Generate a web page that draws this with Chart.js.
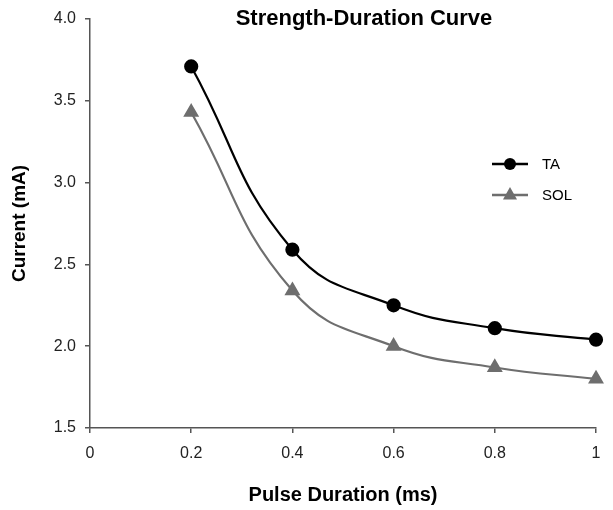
<!DOCTYPE html>
<html><head><meta charset="utf-8">
<script src="https://cdn.jsdelivr.net/npm/chart.js@4"></script>
<style>html,body{margin:0;padding:0;background:#fff}#wrap{width:613px;height:510px}</style>
</head><body><div id="wrap"><canvas id="c" width="613" height="510"></canvas></div>
<script>
const pulseDurations = [0.2, 0.4, 0.6, 0.8, 1.0];
const taValues = [3.71, 2.59, 2.25, 2.11, 2.04];
const solValues = [3.43, 2.34, 2.00, 1.87, 1.80];
const seriesNames = ["TA", "SOL"];
const chartTitle = "Strength-Duration Curve";
const xTitle = "Pulse Duration (ms)";
const yTitle = "Current (mA)";

const FONT = "'Liberation Sans', Arial, sans-serif";
const toPts = (xs, ys) => xs.map((x, i) => ({x: x, y: ys[i]}));

const overlay = {
  id: 'overlay',
  afterDraw(chart) {
    const ctx = chart.ctx;
    ctx.save();
    ctx.font = "bold 22px " + FONT;
    ctx.fillStyle = "#000";
    ctx.textAlign = "center"; ctx.textBaseline = "middle";
    ctx.fillText(chartTitle, 364, 19);
    // legend
    const lx = 492, ly = [164, 195];
    chart.data.datasets.forEach((ds, i) => {
      const y = ly[i];
      ctx.strokeStyle = ds.borderColor; ctx.lineWidth = 2.5;
      ctx.beginPath(); ctx.moveTo(lx, y); ctx.lineTo(lx + 36, y); ctx.stroke();
      ctx.fillStyle = ds.pointBackgroundColor;
      const cx = lx + 18;
      if (ds.pointStyle === 'triangle') {
        ctx.beginPath(); ctx.moveTo(cx, y - 8); ctx.lineTo(cx + 7, y + 4.5); ctx.lineTo(cx - 7, y + 4.5); ctx.closePath(); ctx.fill();
      } else {
        ctx.beginPath(); ctx.arc(cx, y, 6, 0, Math.PI * 2); ctx.fill();
      }
      ctx.fillStyle = "#000"; ctx.font = "15px " + FONT;
      ctx.textAlign = "left"; ctx.textBaseline = "middle";
      ctx.fillText(ds.label, lx + 50, y + 1);
    });
    ctx.restore();
  }
};

new Chart(document.getElementById('c'), {
  type: 'line',
  data: {
    datasets: [
      {label: seriesNames[0], data: toPts(pulseDurations, taValues), borderColor: '#000', backgroundColor: '#000',
       pointBackgroundColor: '#000', pointBorderColor: '#000', pointStyle: 'circle', pointRadius: 6, borderWidth: 2.2,
       tension: 0.45, clip: false},
      {label: seriesNames[1], data: toPts(pulseDurations, solValues), borderColor: '#6e6e6e', backgroundColor: '#6e6e6e',
       pointBackgroundColor: '#6e6e6e', pointBorderColor: '#6e6e6e', pointStyle: 'triangle', pointRadius: 7, borderWidth: 2.2,
       tension: 0.45, clip: false}
    ]
  },
  options: {
    responsive: false, animation: false, devicePixelRatio: 1,
    layout: {padding: {top: 19, right: 17, left: 0, bottom: 0}},
    plugins: {legend: {display: false}, title: {display: false}, tooltip: {enabled: false}},
    scales: {
      x: {
        type: 'linear', min: 0, max: 1,
        afterFit(s) { s.height = 82; },
        border: {display: true, color: '#555', width: 1.5},
        grid: {display: true, drawOnChartArea: false, drawTicks: true, tickLength: 5, color: '#555', lineWidth: 1.5},
        ticks: {stepSize: 0.2, color: '#222', font: {family: FONT, size: 16}, padding: 11,
                callback: v => String(Math.round(v * 10) / 10)},
        title: {display: true, text: xTitle, color: '#000', font: {family: FONT, size: 20, weight: 'bold'}, padding: {bottom: 3}}
      },
      y: {
        type: 'linear', min: 1.5, max: 4.0,
        afterFit(s) { s.width = 90; },
        border: {display: true, color: '#555', width: 1.5},
        grid: {display: true, drawOnChartArea: false, drawTicks: true, tickLength: 5, color: '#555', lineWidth: 1.5},
        ticks: {stepSize: 0.5, color: '#222', font: {family: FONT, size: 16}, padding: 9,
                callback: v => v.toFixed(1)},
        title: {display: true, text: yTitle, color: '#000', font: {family: FONT, size: 19, weight: 'bold'}, padding: {top: 8, bottom: 0}}
      }
    }
  },
  plugins: [overlay]
});
</script></body></html>
